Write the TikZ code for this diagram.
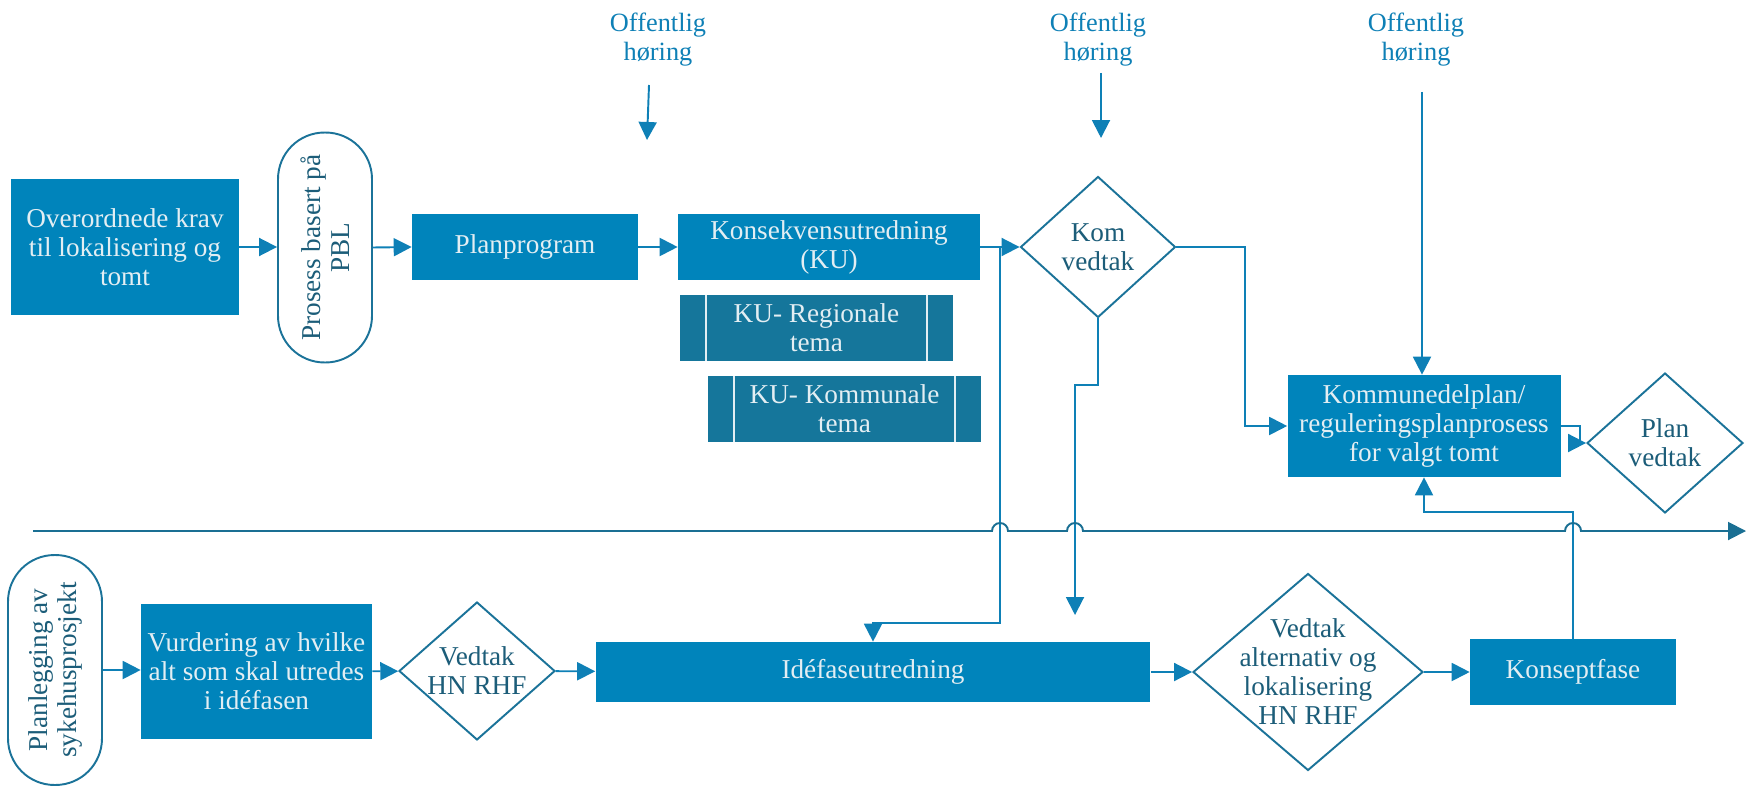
\documentclass[tikz,border=0pt]{standalone}
\usepackage{fontspec}
\setmainfont{Liberation Serif}
\usepackage{tikz}
\usetikzlibrary{shapes.geometric, arrows.meta, positioning}

\definecolor{boxblue}{RGB}{0,132,187}
\definecolor{kuteal}{RGB}{21,118,155}
\definecolor{linkblue}{RGB}{14,128,182}
\definecolor{edgeteal}{RGB}{27,115,153}
\definecolor{lineteal}{RGB}{26,111,147}
\definecolor{textteal}{RGB}{28,93,121}
\definecolor{boxtext}{RGB}{227,238,243}

\begin{document}
\begin{tikzpicture}[x=0.02cm, y=-0.02cm,
    >={Triangle[length=0.36cm,width=0.36cm]},
    every node/.style={font=\fontsize{15.5}{16.5}\selectfont},
    box/.style={rectangle, fill=boxblue, text=boxtext, align=center, inner sep=2pt},
    kubox/.style={rectangle, fill=kuteal, text=boxtext, align=center,
                  minimum width=5.46cm, minimum height=1.32cm},
    term/.style={rectangle, rounded corners=0.93cm, draw=edgeteal, line width=1.1pt,
                 fill=white, text=textteal, align=center, rotate=90, inner sep=0pt,
                 minimum width=4.6cm, minimum height=1.88cm},
    vedtak/.style={diamond, draw=edgeteal, line width=1.1pt, fill=white,
                   text=textteal, align=center, inner sep=-10pt},
    horing/.style={text=linkblue, align=center, font=\fontsize{15}{16.5}\selectfont},
    link/.style={linkblue, line width=1.1pt}]
    \useasboundingbox (0,0) rectangle (1746,787);

    % upper row: plan process
    \node[box, minimum width=4.56cm, minimum height=2.72cm] (ove) at (125,247) {Overordnede krav\\til lokalisering og\\tomt};
    \node[term] (pbl) at (325,247.5) {Prosess basert på\\PBL};
    \node[box, minimum width=4.52cm, minimum height=1.32cm] (plan) at (525,247) {Planprogram};
    \node[box, minimum width=6.04cm, minimum height=1.32cm] (kons) at (829,247) {Konsekvensutredning\\(KU)};
      \node[kubox] (kureg) at (816.5,328) {KU- Regionale\\tema};
      \node[kubox] (kukom) at (844.5,409) {KU- Kommunale\\tema};
    \node[vedtak, minimum width=3.1cm, minimum height=2.82cm] (kom) at (1098,247) {Kom\\vedtak};
    \node[box, minimum width=5.46cm, minimum height=2.04cm] (kdp) at (1424,426) {Kommunedelplan/\\reguleringsplanprosess\\for valgt tomt};
    \node[vedtak, minimum width=3.12cm, minimum height=2.8cm] (planv) at (1665,443) {Plan\\vedtak};

    \node[horing] (off1) at (658,40) {Offentlig\\høring};
    \node[horing] (off2) at (1098,40) {Offentlig\\høring};
    \node[horing] (off3) at (1416,40) {Offentlig\\høring};

    % lower row: hospital project
    \node[term] (pla) at (55,670) {Planlegging av\\sykehusprosjekt};
    \node[box, minimum width=4.62cm, minimum height=2.7cm] (vur) at (256.5,671.5) {Vurdering av hvilke\\alt som skal utredes\\i idéfasen};
    \node[vedtak, minimum width=3.12cm, minimum height=2.76cm] (hn) at (477,671) {Vedtak\\HN RHF};
    \node[box, minimum width=11.1cm, minimum height=1.2cm] (ide) at (873,672) {Idéfaseutredning};
    \node[vedtak, minimum width=4.6cm, minimum height=3.94cm] (alt) at (1308,672) {Vedtak\\alternativ og\\lokalisering\\HN RHF};
    \node[box, minimum width=4.12cm, minimum height=1.32cm] (kon) at (1573,672) {Konseptfase};

    \foreach \n in {kureg, kukom}
      \draw[boxtext, line width=1pt] ([xshift=0.52cm]\n.north west) -- ([xshift=0.52cm]\n.south west)
                                     ([xshift=-0.52cm]\n.north east) -- ([xshift=-0.52cm]\n.south east);

    \coordinate (kuout) at (1000,247);
    \coordinate (komend) at (1075,615);
    \coordinate (tl0) at (33,531);
    \coordinate (tl1) at (1746,531);
    \coordinate (h1a) at (649,85);
    \coordinate (h1b) at (647,140);
    \coordinate (h2a) at (1101,73);
    \coordinate (h2b) at (1101,138);
    \coordinate (h3) at (1422,92);

    \path[->, link] (ove.east) edge (ove.east -| pbl.north)
                    (pbl.south) edge (plan.west)
                    (plan) edge (kons)
                    (kons) edge (kom);
    \draw[->, link] (kuout) -- ++(0,376) -| (ide.north);
    \draw[->, link] (kom.south) -- ++(0,67) -| (komend);
    \draw[->, link] (kom.east) -| ([xshift=-0.84cm]kdp.west) -- (kdp.west);
    \draw[->, link] (kdp.east) -- ++(19,0) |- (planv.west);
    \draw[->, link] (kon.north) -- ++(0,-127) -| (kdp.south);
    \path[->, link] (h1a) edge (h1b)
                    (h2a) edge (h2b)
                    (h3) edge (h3 |- kdp.north);

    \path[->, link] (pla.south) edge (pla.south -| vur.west)
                    (vur) edge (hn)
                    (hn) edge (ide)
                    (ide) edge (alt)
                    (alt) edge (kon);

    % time line with jumps
    \draw[->, lineteal, line width=1.1pt] (tl0)
        -- ([xshift=-0.16cm]kuout |- tl0) arc[start angle=180, end angle=0, radius=0.16cm]
        -- ([xshift=-0.16cm]komend |- tl0) arc[start angle=180, end angle=0, radius=0.16cm]
        -- ([xshift=-0.16cm]kon.north |- tl0) arc[start angle=180, end angle=0, radius=0.16cm]
        -- (tl1);
\end{tikzpicture}
\end{document}
